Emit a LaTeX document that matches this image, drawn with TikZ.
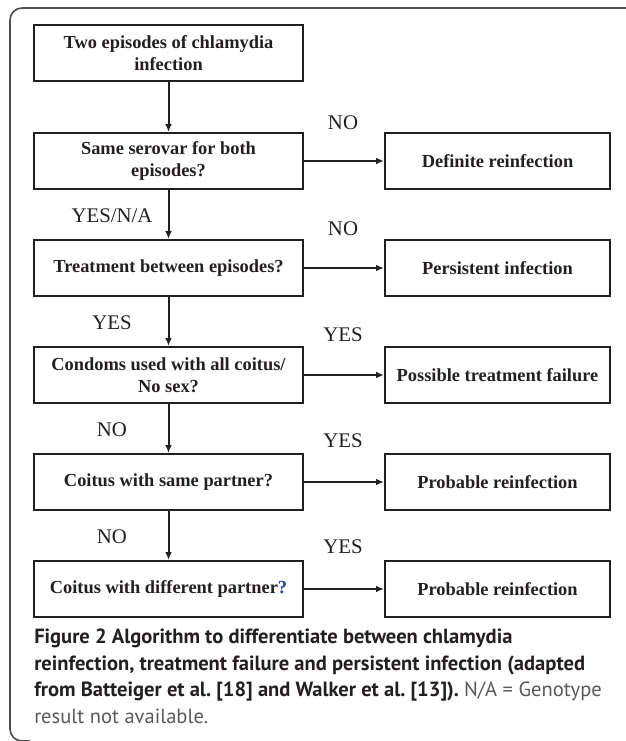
\documentclass[tikz,border=0pt]{standalone}
\usepackage{fontspec}
\setmainfont{Liberation Serif}
\setsansfont{PT Sans}
\usetikzlibrary{arrows.meta}
\definecolor{inkline}{HTML}{231F20}
\definecolor{qblue}{HTML}{1F3F8F}
\definecolor{capgray}{HTML}{58595B}
\definecolor{framegray}{HTML}{4D4D4F}
\tikzset{
  flowbox/.style={draw=inkline, line width=1.5pt, minimum height=42pt, align=center,
    font=\fontsize{13.8}{16.5}\selectfont\bfseries, text=inkline, inner sep=2pt},
  askbox/.style={flowbox, minimum width=201.75pt},
  endbox/.style={flowbox, minimum width=168.75pt},
  flowarrow/.style={draw=inkline, line width=1.5pt, -{Latex[length=6pt,width=5pt]}},
  answer/.style={font=\fontsize{15.6}{18}\selectfont, text=inkline, inner sep=0pt}
}

\begin{document}
\frenchspacing
\begin{tikzpicture}[x=0.75pt,y=-0.75pt]
  \useasboundingbox (0,0) rectangle (625,741);
  % panel frame
  \draw[framegray, line width=1.2pt, rounded corners=9pt] (640,8) -- (10,8) -- (10,741) -- (30,741);

  % questions
  \node[askbox] (episodes) at (168.5,53) {Two episodes of chlamydia\\infection};
  \node[askbox] (serovar) at (168.5,161) {Same serovar for both\\episodes?};
  \node[askbox] (treated) at (168.5,268) {Treatment between episodes?};
  \node[askbox] (condoms) at (168.5,375) {Condoms used with all coitus/\\No sex?};
  \node[askbox] (samepartner) at (168.5,482) {Coitus with same partner?};
  \node[askbox] (newpartner) at (168.5,589) {Coitus with different partner{\color{qblue}?}};

  % outcomes
  \node[endbox] (definite) at (497.5,161) {Definite reinfection};
  \node[endbox] (persistent) at (497.5,268) {Persistent infection};
  \node[endbox] (failure) at (497.5,375) {Possible treatment failure};
  \node[endbox] (probableA) at (497.5,482) {Probable reinfection};
  \node[endbox] (probableB) at (497.5,589) {Probable reinfection};

  % arrows
  \draw[flowarrow] (episodes) -- (serovar);
  \draw[flowarrow] (serovar) -- (treated);
  \draw[flowarrow] (treated) -- (condoms);
  \draw[flowarrow] (condoms) -- (samepartner);
  \draw[flowarrow] (samepartner) -- (newpartner);
  \draw[flowarrow] (serovar) -- (definite);
  \draw[flowarrow] (treated) -- (persistent);
  \draw[flowarrow] (condoms) -- (failure);
  \draw[flowarrow] (samepartner) -- (probableA);
  \draw[flowarrow] (newpartner) -- (probableB);

  % answers
  \node[answer] (noA) at (343,123) {NO};
  \node[answer] (noB) at (343,229) {NO};
  \node[answer] (yesA) at (343,335) {YES};
  \node[answer] (yesB) at (343,441) {YES};
  \node[answer] (yesC) at (343,547) {YES};
  \node[answer] (yesna) at (112,216) {YES/N/A};
  \node[answer] (yesD) at (112,323) {YES};
  \node[answer] (noC) at (112,430) {NO};
  \node[answer] (noD) at (112,537) {NO};

  % caption
  \node[anchor=north west, align=left, inner sep=0pt, text=inkline,
    font=\sffamily\fontsize{15.4}{19.8}\selectfont] (caption) at (34,629)
    {\bfseries Figure 2 Algorithm to differentiate between chlamydia\\
     \bfseries reinfection, treatment failure and persistent infection (adapted\\
     \bfseries from Batteiger et al. [18] and Walker et al. [13]). {\mdseries\color{capgray}N/A = Genotype}\\
     {\color{capgray}result not available.}};
\end{tikzpicture}
\end{document}
